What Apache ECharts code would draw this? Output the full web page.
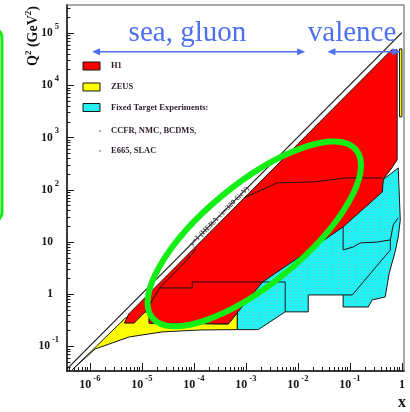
<!DOCTYPE html>
<html>
<head>
<meta charset="utf-8">
<script src="https://cdn.jsdelivr.net/npm/echarts@6/dist/echarts.min.js"></script>
<style>
  html, body { margin: 0; padding: 0; background: #fff; }
  #c { width: 410px; height: 412px; }
</style>
</head>
<body>
<div id="c"></div>
<script>
// Kinematic plane of deep-inelastic scattering: Bjorken x vs Q^2 (GeV^2).
// Both axes are drawn as log10 values on value axes.

// Major tick exponents
const xTickExp = [-6, -5, -4, -3, -2, -1, 0];
const yTickExp = [-1, 0, 1, 2, 3, 4, 5];

// Measured regions, outlines as [x, Q2] pairs
const h1Region = [
  [4.6e-6, 0.28], [5.6e-6, 0.42], [0.62, 4.7e4], [0.81, 4.8e4], [0.81, 374],
  [0.60, 240], [0.44, 161], [0.42, 91], [0.074, 19.5], [0.017, 7.1],
  [2.1e-3, 1.72], [6.8e-4, 0.44], [4.6e-4, 0.27], [1.38e-5, 0.28],
  [1.38e-5, 0.46], [1.16e-5, 0.46], [7.1e-6, 0.28]
];
const zeusLowQ2 = [
  [4.6e-7, 0.036], [4.8e-6, 0.35], [1.16e-5, 0.46], [1.38e-5, 0.46],
  [1.38e-5, 0.28], [4.6e-4, 0.27], [6.8e-4, 0.44], [6.8e-4, 0.21],
  [1.32e-4, 0.207], [2.45e-5, 0.19], [5.7e-6, 0.152], [1.26e-6, 0.0895]
];
const zeusHighX = [[0.9, 5.0e4], [1.0, 5.0e4], [1.0, 2500], [0.9, 2500]];
const fixedTarget = [
  [6.8e-4, 0.21], [1.73e-3, 0.21], [5.7e-3, 0.46], [1.58e-2, 0.46],
  [1.58e-2, 0.97], [7.4e-2, 0.97], [7.4e-2, 0.57], [0.225, 0.57],
  [0.269, 0.78], [0.478, 0.89], [0.57, 2.56], [0.74, 6.5], [0.85, 12.5],
  [0.93, 26.5], [0.85, 263], [0.48, 169], [0.1, 50], [3.0e-3, 3.0], [6.8e-4, 0.6]
];

// Boundaries between sub-samples inside the regions
const h1Edge1 = [[1.16e-5, 0.46], [2.2e-5, 1.32], [7.4e-5, 4.54], [1.1e-4, 7.4]];
const h1Edge2 = [[2.2e-5, 1.32], [9.3e-5, 1.32], [9.3e-5, 1.72], [5.7e-3, 1.72], [5.7e-3, 0.46]];
const h1Edge3 = [[9.5e-4, 71], [4.0e-3, 136], [2.15e-2, 142], [8.1e-2, 169], [0.42, 169]];
const ftEdge1 = [[7.4e-2, 19.5], [7.4e-2, 7.06], [0.116, 8.05], [0.158, 9.62], [0.335, 10.0], [0.60, 11.0], [0.68, 21.3], [0.85, 29]];
const ftEdge2 = [[7.4e-2, 0.97], [0.111, 0.97], [0.60, 7.06], [0.60, 11.0]];

// Kinematic limit y = 1 at HERA: Q^2 = s x
const sqrtS = 320;
const limitX = [3.6e-7, 1];

// Annotation anchors in (x, Q2)
const seaArrow = [1.1e-6, 0.0138];
const valenceArrow = [0.037, 0.93];
const arrowQ2 = 4.4e4;
const seaLabelAt = [7.5e-5, 1.0e5];
const valenceLabelAt = [0.11, 1.0e5];
const bandLabelAt = [3.1e-4, 31];
const ellipseAt = [1.45e-3, 14.3];

const serif = '"Liberation Serif", "Times New Roman", serif';
const LOG = p => [Math.log10(p[0]), Math.log10(p[1])];

const xRange = [-6.44, 0.04];
const yRange = [-1.47, 5.54];

function minorTicks(lo, hi) {
  const out = [];
  for (let n = Math.floor(lo) - 1; n <= Math.ceil(hi); n++) {
    for (let k = 2; k <= 9; k++) {
      const v = n + Math.log10(k);
      if (v > lo && v < hi) out.push(v);
    }
  }
  return out;
}

// dotted cyan fill for fixed-target data
const pat = document.createElement('canvas');
pat.width = 3; pat.height = 3;
const pg = pat.getContext('2d');
pg.fillStyle = '#1ff4f4'; pg.fillRect(0, 0, 3, 3);
pg.fillStyle = '#66c4d0'; pg.fillRect(0, 0, 1, 1);
const cyanFill = { image: pat, repeat: 'repeat' };

function region(name, pts, fill, z, closed) {
  const data = pts.map(LOG);
  return {
    type: 'custom', name, z, silent: true, clip: true,
    xAxisIndex: 0, yAxisIndex: 0,
    data, encode: { x: 0, y: 1 },
    renderItem(params, api) {
      if (params.dataIndex !== 0) return null;
      const points = data.map(d => api.coord(d));
      return closed
        ? { type: 'polygon', shape: { points }, style: { fill, stroke: '#151515', lineWidth: 1 } }
        : { type: 'polyline', shape: { points }, style: { fill: null, stroke: '#151515', lineWidth: 1 } };
    }
  };
}

const labelRich = (size, sup) => ({
  b: { fontFamily: serif, fontWeight: 'bold', fontSize: size, color: '#151515', lineHeight: 22 },
  s: { fontFamily: serif, fontWeight: 'bold', fontSize: sup, color: '#151515', lineHeight: 9, verticalAlign: 'top', padding: [0, 0, 0, 2] },
  sp: { fontFamily: serif, fontSize: sup, width: 6, lineHeight: 9 }
});

const xFmt = v => (v === 0 ? '{b|1}' : '{b|10}{s|' + v + '}');
const yFmt = v => (v === 0 ? '{b|1}{sp| }' : v === 1 ? '{b|10}{sp| }' : '{b|10}{s|' + v + '}');

const tickStyle = { color: '#151515', width: 1 };

const chart = echarts.init(document.getElementById('c'));

chart.setOption({
  animation: false,
  backgroundColor: '#fff',
  grid: { left: 67, top: 5, width: 337, height: 366, show: true, borderColor: '#8c8c8c', borderWidth: 1.5 },
  xAxis: [
    {
      type: 'value', min: xRange[0], max: xRange[1], position: 'bottom',
      axisLine: { onZero: false, lineStyle: { color: '#151515', width: 1.5 } },
      axisTick: { inside: true, length: 8, customValues: xTickExp, lineStyle: tickStyle },
      axisLabel: { customValues: xTickExp, formatter: xFmt, rich: labelRich(12, 8.5), margin: 3 },
      splitLine: { show: false }
    },
    {
      type: 'value', min: xRange[0], max: xRange[1], position: 'bottom',
      axisLine: { show: false, onZero: false },
      axisTick: { inside: true, length: 4, customValues: minorTicks(xRange[0], xRange[1]), lineStyle: tickStyle },
      axisLabel: { show: false }, splitLine: { show: false }
    }
  ],
  yAxis: [
    {
      type: 'value', min: yRange[0], max: yRange[1], position: 'left',
      axisLine: { onZero: false, lineStyle: { color: '#151515', width: 1.5 } },
      axisTick: { inside: true, length: 7, customValues: yTickExp, lineStyle: tickStyle },
      axisLabel: { customValues: yTickExp, formatter: yFmt, rich: labelRich(11.5, 8.5), margin: 8 },
      splitLine: { show: false }
    },
    {
      type: 'value', min: yRange[0], max: yRange[1], position: 'left',
      axisLine: { show: false, onZero: false },
      axisTick: { inside: true, length: 3.5, customValues: minorTicks(yRange[0], yRange[1]), lineStyle: tickStyle },
      axisLabel: { show: false }, splitLine: { show: false }
    }
  ],
  series: [
    region('Fixed Target', fixedTarget, cyanFill, 1, true),
    region('ZEUS', zeusLowQ2, '#ffff00', 2, true),
    region('H1', h1Region, '#ff0000', 3, true),
    region('ZEUS high x', zeusHighX, '#ffff00', 3, true),
    region('h1 edge 1', h1Edge1, null, 4, false),
    region('h1 edge 2', h1Edge2, null, 4, false),
    region('h1 edge 3', h1Edge3, null, 4, false),
    region('ft edge 1', ftEdge1, null, 4, false),
    region('ft edge 2', ftEdge2, null, 4, false),
    {
      type: 'line', name: 'y=1', z: 5, silent: true, symbol: 'none',
      xAxisIndex: 0, yAxisIndex: 0,
      data: limitX.map(x => LOG([x, x * sqrtS * sqrtS])),
      lineStyle: { color: '#1a1a1a', width: 1.2 }
    }
  ]
});

const px = p => chart.convertToPixel({ gridIndex: 0 }, LOG(p));
const blue = '#4c70f0';
const green = '#14ee14';

function arrow(xs) {
  const a = px([xs[0], arrowQ2]);
  const b = px([xs[1], arrowQ2]);
  const y = a[1];
  return [
    { type: 'line', shape: { x1: a[0] + 6, y1: y, x2: b[0] - 6, y2: y }, style: { stroke: blue, lineWidth: 1.5 }, z: 20 },
    { type: 'polygon', shape: { points: [[a[0], y], [a[0] + 8, y - 3.5], [a[0] + 8, y + 3.5]] }, style: { fill: blue }, z: 20 },
    { type: 'polygon', shape: { points: [[b[0], y], [b[0] - 8, y - 3.5], [b[0] - 8, y + 3.5]] }, style: { fill: blue }, z: 20 }
  ];
}

const seaP = px(seaLabelAt);
const valP = px(valenceLabelAt);
const bandP = px(bandLabelAt);
const ellP = px(ellipseAt);
const legendFont = { fontFamily: serif, fontWeight: 'bold', fontSize: 8.5, fill: '#2b1d2b' };

const legendRows = [
  { y: 66, label: 'H1', fill: '#ff0000' },
  { y: 87, label: 'ZEUS', fill: '#ffff00' },
  { y: 107.5, label: 'Fixed Target Experiments:', fill: cyanFill },
  { y: 131, label: 'CCFR, NMC, BCDMS,', fill: null },
  { y: 151, label: 'E665, SLAC', fill: null }
];

const legendEls = [];
legendRows.forEach(r => {
  if (r.fill) {
    legendEls.push({ type: 'rect', shape: { x: 83, y: r.y - 4, width: 17, height: 8 }, style: { fill: r.fill, stroke: '#151515', lineWidth: 1 }, z: 20 });
  } else {
    legendEls.push({ type: 'circle', shape: { cx: 100, cy: r.y, r: 0.8 }, style: { fill: '#555' }, z: 20 });
  }
  legendEls.push({ type: 'text', x: 111, y: r.y, style: Object.assign({ text: r.label, align: 'left', verticalAlign: 'middle' }, legendFont), z: 20 });
});

chart.setOption({
  graphic: [
    ...legendEls,
    ...arrow(seaArrow),
    ...arrow(valenceArrow),
    { type: 'text', x: seaP[0], y: seaP[1], style: { text: 'sea, gluon', fontFamily: serif, fontSize: 29, fill: blue, align: 'center', verticalAlign: 'middle' }, z: 20 },
    { type: 'text', x: valP[0], y: valP[1], style: { text: 'valence', fontFamily: serif, fontSize: 29, fill: blue, align: 'center', verticalAlign: 'middle' }, z: 20 },
    {
      type: 'text', x: bandP[0], y: bandP[1], rotation: Math.atan2(52.2, 52),
      style: { text: 'y=1 (HERA \u221As=320 GeV)', fontFamily: serif, fontWeight: 'bold', fontSize: 7.5, fill: '#444', align: 'center', verticalAlign: 'middle' }, z: 21
    },
    {
      type: 'text', x: 33, y: 36, rotation: Math.PI / 2,
      style: {
        text: '{a|Q}{s|2}{a| (GeV}{s|2}{a|)}', align: 'center', verticalAlign: 'middle',
        rich: {
          a: { fontFamily: serif, fontWeight: 'bold', fontSize: 14, fill: '#151515', lineHeight: 18 },
          s: { fontFamily: serif, fontWeight: 'bold', fontSize: 9, fill: '#151515', lineHeight: 9, verticalAlign: 'top' }
        }
      }, z: 20
    },
    { type: 'text', x: 402, y: 403, style: { text: 'x', fontFamily: serif, fontWeight: 'bold', fontSize: 16, fill: '#151515', align: 'center', verticalAlign: 'middle' }, z: 20 },
    {
      type: 'ellipse', x: ellP[0], y: ellP[1], rotation: 0.689,
      shape: { cx: 0, cy: 0, rx: 132, ry: 50 },
      style: { fill: null, stroke: green, lineWidth: 6 }, z: 30
    },
    {
      type: 'rect', shape: { x: -20, y: 28, width: 22, height: 194, r: 10 },
      style: { fill: null, stroke: green, lineWidth: 3 }, z: 30
    }
  ]
});
</script>
</body>
</html>
